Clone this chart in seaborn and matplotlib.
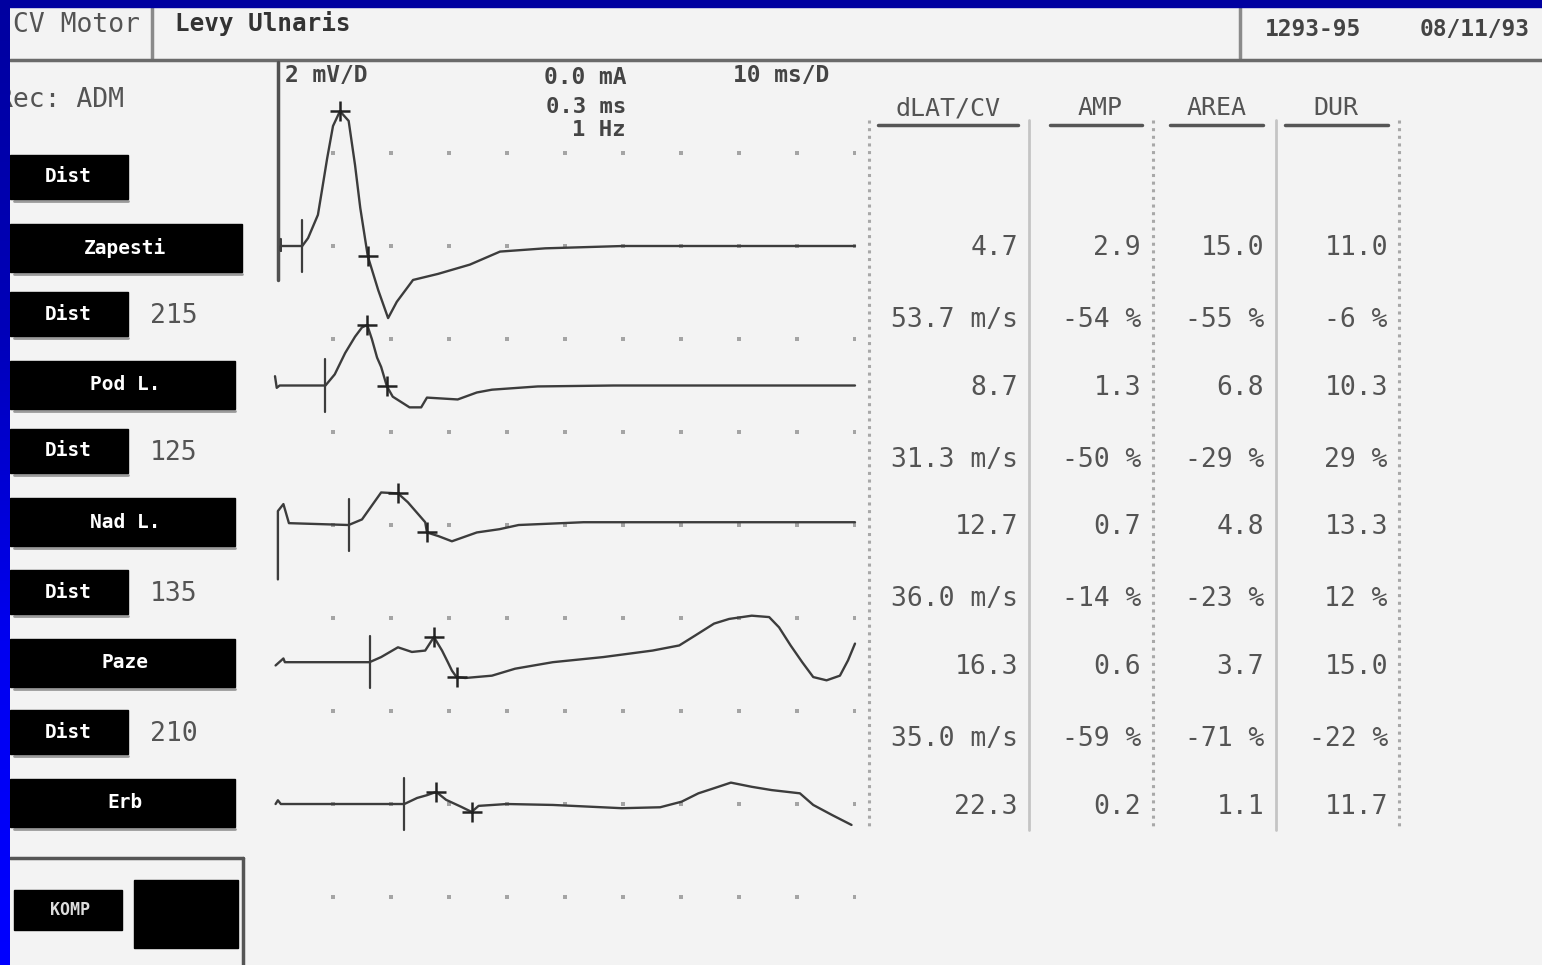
import numpy as np
import pandas as pd
import matplotlib
matplotlib.use("Agg")
import matplotlib.pyplot as plt
import seaborn as sns
from matplotlib.patches import Rectangle
from matplotlib.colors import LinearSegmentedColormap

sns.set_theme(style="white")
plt.rcParams['font.family'] = ['DejaVu Sans Mono', 'DejaVu Sans']

# study info
sites = ["Zapesti", "Pod L.", "Nad L.", "Paze", "Erb"]
distances_mm = [215, 125, 135, 210]
latency_ms = [4.7, 8.7, 12.7, 16.3, 22.3]
velocity = [53.7, 31.3, 36.0, 35.0]
amp_mv = [2.9, 1.3, 0.7, 0.6, 0.2]
amp_pct = [-54, -50, -14, -59]
area = [15.0, 6.8, 4.8, 3.7, 1.1]
area_pct = [-55, -29, -23, -71]
dur_ms = [11.0, 10.3, 13.3, 15.0, 11.7]
dur_pct = [-6, 29, 12, -22]

# traces, time in ms, amplitude in mV relative to each baseline
t_wrist = [1.0, 1.0, 1.0, 4.7, 5.7, 7.4, 8.1, 9.0, 10.0, 11.2, 12.7, 13.8, 14.7, 16.0,
           17.8, 19.5, 21.0, 23.8, 28.1, 33.6, 38.8, 46.6, 60.0, 100.0]
a_wrist = [0.15, -0.1, 0.0, 0.0, 0.17, 0.67, 1.2, 1.89, 2.58, 2.9, 2.69, 1.74, 0.82, -0.22,
           -0.95, -1.55, -1.2, -0.73, -0.6, -0.4, -0.12, -0.05, 0.0, 0.0]

t_below = [0.0, 0.3, 0.8, 8.7, 10.3, 12.1, 13.8, 15.0, 15.9, 16.7, 17.6, 18.3, 19.3, 20.3,
           23.2, 25.2, 26.2, 31.5, 34.8, 37.4, 45.3, 58.4, 100.0]
a_below = [0.2, -0.05, 0.0, 0.0, 0.24, 0.7, 1.05, 1.25, 1.3, 1.0, 0.6, 0.4, -0.02, -0.24,
           -0.47, -0.47, -0.26, -0.3, -0.15, -0.09, -0.02, 0.0, 0.0]

t_above = [0.5, 0.5, 1.45, 2.4, 12.7, 15.0, 18.3, 21.2, 22.9, 25.9, 26.2, 28.2, 30.5,
           34.8, 38.7, 42.0, 53.2, 100.0]
a_above = [-1.17, 0.3, 0.45, 0.04, 0.0, 0.12, 0.7, 0.68, 0.49, 0.06, -0.16, -0.24, -0.35,
           -0.16, -0.09, 0.0, 0.06, 0.06]

t_arm = [0.1, 1.45, 1.7, 16.3, 18.3, 21.2, 23.6, 25.9, 27.4, 28.8, 29.8, 30.5, 31.3, 32.8,
         37.4, 41.4, 47.9, 56.6, 65.1, 69.7, 72.4, 75.7, 78.3, 82.2, 85.2, 86.9, 88.9,
         90.9, 92.8, 95.1, 97.4, 98.8, 100.0]
a_arm = [-0.07, 0.08, 0.0, 0.0, 0.11, 0.32, 0.22, 0.25, 0.54, 0.25, 0.0, -0.18, -0.32, -0.34,
         -0.29, -0.14, 0.0, 0.11, 0.25, 0.36, 0.57, 0.83, 0.93, 1.0, 0.97, 0.75, 0.36,
         0.0, -0.32, -0.39, -0.29, 0.04, 0.4]

t_erb = [0.1, 0.5, 1.0, 22.3, 24.5, 26.2, 27.8, 29.5, 32.1, 33.9, 35.1, 40.0, 47.9, 59.8,
         66.4, 70.1, 73.0, 75.7, 78.6, 82.2, 85.6, 90.5, 92.8, 96.1, 99.4]
a_erb = [0.0, 0.08, 0.0, 0.0, 0.13, 0.19, 0.26, 0.09, -0.06, -0.17, -0.04, 0.0, -0.02, -0.09,
         -0.07, 0.05, 0.23, 0.34, 0.46, 0.37, 0.3, 0.23, -0.02, -0.24, -0.45]

# cursor positions (ms, mV)
peak_t = [11.2, 15.9, 21.2, 27.4, 27.8]
peak_a = [2.9, 1.3, 0.68, 0.54, 0.26]
neg_t = [16.0, 19.3, 26.2, 31.3, 33.9]
neg_a = [-0.22, -0.02, -0.16, -0.32, -0.17]

# baselines on screen, in mV (2 mV per division)
offsets = [14.0, 11.0, 8.0, 5.05, 2.0]

times = [t_wrist, t_below, t_above, t_arm, t_erb]
amps = [a_wrist, a_below, a_above, a_arm, a_erb]
rows = []
for name, tt, aa, off in zip(sites, times, amps, offsets):
    for i, (x, y) in enumerate(zip(tt, aa)):
        rows.append({"site": name, "order": i, "t": x, "y": y + off})
df = pd.DataFrame(rows)

TXT = '#545454'
TRACE = '#3c3c3c'

fig = plt.figure(figsize=(15.42, 9.65), dpi=100)
fig.patch.set_facecolor('#f3f3f3')
bg = fig.add_axes([0, 0, 1, 1])
bg.set_facecolor('#f3f3f3')

# blue frame
blue = LinearSegmentedColormap.from_list('blue', ['#0000a0', '#0000b8', '#0000f0', '#0000ff'])
bg.imshow(np.linspace(0, 1, 256).reshape(-1, 1), extent=[0, 10, 965, 0], cmap=blue,
          aspect='auto', zorder=10)
bg.add_patch(Rectangle((0, 0), 1542, 7, color='#0000a0', zorder=10))
bg.set_xlim(0, 1542)
bg.set_ylim(965, 0)
bg.axis('off')

# header
bg.text(13, 25, "CV Motor", va='center', fontsize=19, color=TXT)
bg.text(175, 23, "Levy Ulnaris", va='center', fontsize=17.5, fontweight='bold', color='#333333')
bg.plot([152, 152], [8, 58], color='#8a8a8a', lw=2.5)
bg.plot([1240, 1240], [8, 58], color='#8a8a8a', lw=2.5)
bg.text(1265, 30, "1293-95", va='center', fontsize=16.5, fontweight='bold', color='#444444')
bg.text(1420, 30, "08/11/93", va='center', fontsize=16.5, fontweight='bold', color='#444444')
bg.plot([10, 1542], [60, 60], color='#6a6a6a', lw=2.5)
bg.text(-3, 100, "Rec: ADM", va='center', fontsize=19, color=TXT)

# left column of buttons
site_y = [248, 385, 522, 663, 803]
site_w = [232, 225, 225, 225, 225]
for i, (name, yc, w) in enumerate(zip(sites, site_y, site_w)):
    dy = yc - 71
    bg.add_patch(Rectangle((10, dy - 22), 118, 44, color='black', zorder=3))
    bg.plot([14, 128], [dy + 24, dy + 24], color='#9a9a9a', lw=2)
    bg.text(68, dy, "Dist", ha='center', va='center', fontsize=14, fontweight='bold', color='white', zorder=4)
    if i > 0:
        bg.text(150, dy + 2, str(distances_mm[i - 1]), va='center', fontsize=19, color=TXT)
    bg.add_patch(Rectangle((10, yc - 24), w, 48, color='black', zorder=3))
    bg.plot([14, 10 + w], [yc + 26, yc + 26], color='#9a9a9a', lw=2)
    bg.text(125, yc, name, ha='center', va='center', fontsize=14, fontweight='bold', color='white', zorder=4)

bg.plot([10, 243], [858, 858], color='#555555', lw=2.5)
bg.plot([243, 243], [858, 965], color='#555555', lw=2.5)
bg.add_patch(Rectangle((14, 890), 108, 40, color='black'))
bg.text(70, 910, "KOMP", ha='center', va='center', fontsize=12, fontweight='bold', color='#dddddd')
bg.add_patch(Rectangle((134, 880), 104, 68, color='black'))

# trace area
bg.plot([278, 278], [62, 280], color='#505050', lw=2.5)
bg.text(285, 75, "2 mV/D", va='center', fontsize=16.5, fontweight='bold', color='#444444')
bg.text(626, 78, "0.0 mA", ha='right', va='center', fontsize=16.5, fontweight='bold', color='#444444')
bg.text(626, 107, "0.3 ms", ha='right', va='center', fontsize=16, fontweight='bold', color='#444444')
bg.text(626, 130, "1 Hz", ha='right', va='center', fontsize=16, fontweight='bold', color='#444444')
bg.text(733, 75, "10 ms/D", va='center', fontsize=16.5, fontweight='bold', color='#444444')

# results table
col_right = [1018, 1141, 1264, 1388]
col_center = [948, 1100, 1217, 1336]
headers = ["dLAT/CV", "AMP", "AREA", "DUR"]
underline = [(878, 1018), (1050, 1142), (1170, 1263), (1285, 1388)]
for h, xc, (u0, u1) in zip(headers, col_center, underline):
    bg.text(xc, 108, h, ha='center', va='center', fontsize=18, color=TXT)
    bg.plot([u0, u1], [125, 125], color='#555555', lw=2.5)
for xl in [869, 1153, 1399]:
    bg.plot([xl, xl], [120, 830], color='#a8a8a8', lw=2.2, ls=(0, (1, 1.5)))
for xl in [1029, 1276]:
    bg.plot([xl, xl], [120, 830], color='#c4c4c4', lw=2)

value_y = [248, 388, 527, 667, 807]
pct_y = [320, 460, 599, 739]
cols = [latency_ms, amp_mv, area, dur_ms]
pcts = [[f"{v:.1f} m/s" for v in velocity], [f"{v} %" for v in amp_pct],
        [f"{v} %" for v in area_pct], [f"{v} %" for v in dur_pct]]
for vals, pc, xr in zip(cols, pcts, col_right):
    for v, yv in zip(vals, value_y):
        bg.text(xr, yv, f"{v:.1f}", ha='right', va='center', fontsize=19, color=TXT)
    for s, yv in zip(pc, pct_y):
        bg.text(xr, yv, s, ha='right', va='center', fontsize=19, color=TXT)

# waveform axes: 10 ms and 2 mV per division
ax = fig.add_axes([275 / 1542, 0, 580 / 1542, 905 / 965])
ax.set_facecolor('none')
ax.set_xlim(0, 100)
ax.set_ylim(-1.462, 18.0)
ax.axis('off')

gx, gy = np.meshgrid(np.arange(10, 101, 10), np.arange(0, 17, 2))
ax.scatter(gx.ravel(), gy.ravel(), s=7, color='#a4a4a4', marker='s', linewidths=0, zorder=1)

sns.lineplot(data=df, x="t", y="y", units="site", estimator=None, sort=False,
             color=TRACE, lw=1.7, ax=ax, legend=False, zorder=3)

for lat, off in zip(latency_ms, offsets):
    ax.plot([lat, lat], [off - 0.56, off + 0.56], color=TRACE, lw=1.6, zorder=4)
off_arr = np.array(offsets)
ax.plot(peak_t, np.array(peak_a) + off_arr, ls='none', marker='+', ms=15, mew=1.8, color='#222222', zorder=5)
ax.plot(neg_t, np.array(neg_a) + off_arr, ls='none', marker='+', ms=15, mew=1.8, color='#222222', zorder=5)
for line in ax.lines:
    line.set_clip_on(False)

fig.savefig("out.png", dpi=100, facecolor=fig.get_facecolor())
